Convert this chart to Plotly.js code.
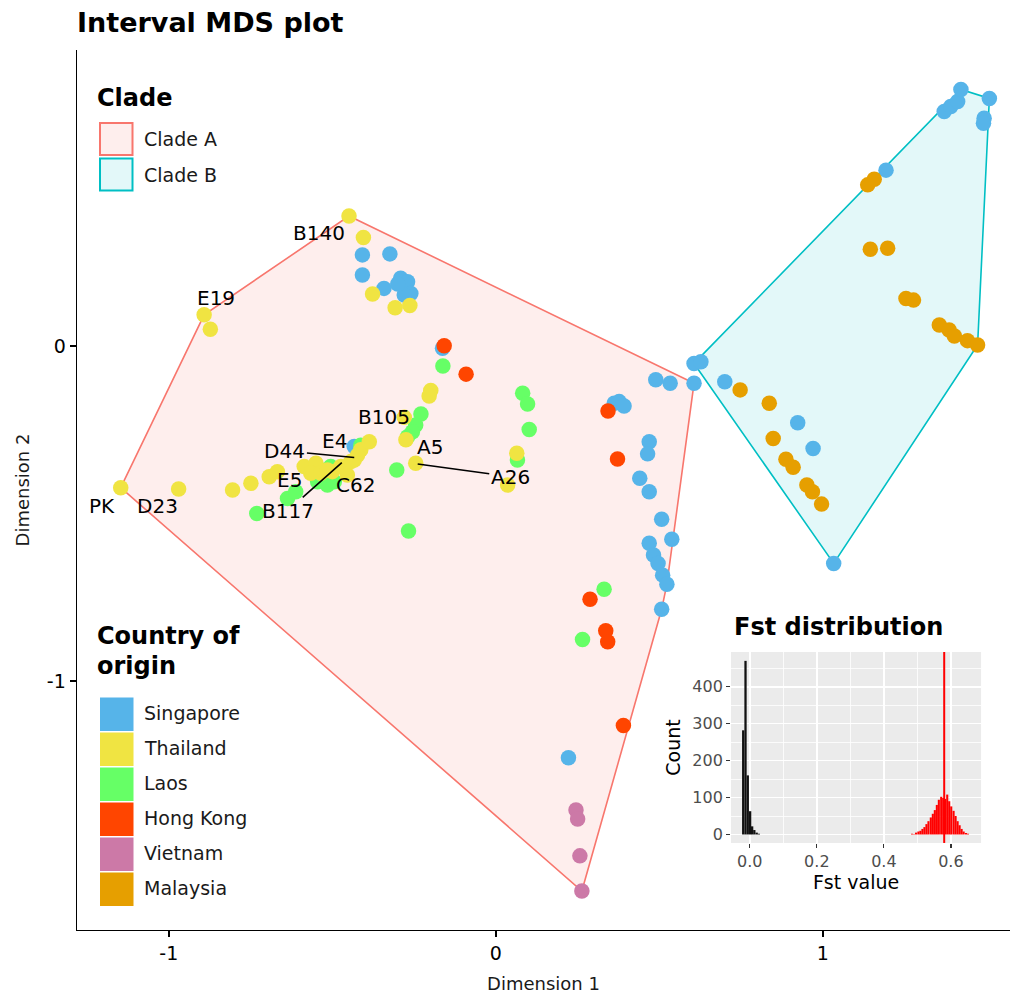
<!DOCTYPE html>
<html>
<head>
<meta charset="utf-8">
<script src="https://cdn.plot.ly/plotly-3.0.1.min.js"></script>
<style>html,body{margin:0;padding:0;background:#fff;}#chart{width:1024px;height:998px;}</style>
</head>
<body>
<div id="chart"></div>
<script>
// ---------------- DATA ----------------
const countries = ["Singapore", "Thailand", "Laos", "Hong Kong", "Vietnam", "Malaysia"];
const countryColors = ["#56B4E9", "#F0E442", "#66FF66", "#FF4500", "#CC79A7", "#E69F00"];
const cladeNames = ["Clade A", "Clade B"];

const singaporeDim1 = [-0.408,-0.324,-0.408,-0.291,-0.270,-0.260,-0.280,-0.342,-0.300,-0.163,-0.433,0.362,0.377,0.392,0.489,0.533,0.606,0.469,0.464,0.440,0.469,0.507,0.538,0.469,0.482,0.496,0.510,0.523,0.507,0.222,
  0.606,0.627,0.700,0.923,0.970,1.033,1.193,1.371,1.391,1.412,1.422,1.509,1.493,1.491];
const singaporeDim2 = [0.272,0.275,0.212,0.202,0.192,0.157,0.152,0.172,0.185,-0.007,-0.300,-0.171,-0.166,-0.179,-0.101,-0.111,-0.111,-0.286,-0.322,-0.395,-0.435,-0.517,-0.577,-0.589,-0.624,-0.649,-0.684,-0.711,-0.786,-1.229,
  -0.052,-0.047,-0.107,-0.229,-0.306,-0.649,0.525,0.700,0.715,0.730,0.766,0.739,0.680,0.665];
const singaporeClade = ["A","A","A","A","A","A","A","A","A","A","A","A","A","A","A","A","A","A","A","A","A","A","A","A","A","A","A","A","A","A",
  "B","B","B","B","B","B","B","B","B","B","B","B","B","B"];

const thailandDim1 = [-0.449,-0.405,-0.377,-0.308,-0.263,-0.892,-0.873,-0.199,-0.204,-0.280,-0.275,-0.245,-1.147,-0.970,-0.805,-0.749,-0.693,-0.668,-0.586,-0.550,-0.566,-0.535,-0.515,-0.474,-0.454,-0.433,-0.413,-0.387,-0.423,-0.443,-0.500,0.064,0.036];
const thailandDim2 = [0.388,0.324,0.155,0.114,0.121,0.093,0.050,-0.133,-0.149,-0.213,-0.280,-0.350,-0.423,-0.427,-0.430,-0.410,-0.390,-0.375,-0.360,-0.350,-0.380,-0.380,-0.370,-0.360,-0.385,-0.340,-0.310,-0.286,-0.326,-0.345,-0.375,-0.320,-0.415];
const thailandClade = thailandDim1.map(() => "A");

const laosDim1 = [-0.162,-0.229,-0.245,-0.255,-0.270,-0.303,-0.267,-0.731,-0.637,-0.612,-0.545,-0.515,-0.494,-0.505,-0.535,-0.413,0.082,0.097,0.102,0.066,0.331,0.265];
const laosDim2 = [-0.060,-0.203,-0.236,-0.256,-0.271,-0.370,-0.552,-0.500,-0.455,-0.435,-0.405,-0.415,-0.405,-0.360,-0.370,-0.296,-0.141,-0.173,-0.249,-0.340,-0.726,-0.876];
const laosClade = laosDim1.map(() => "A");

const hongKongDim1 = [-0.158,-0.091,0.343,0.372,0.288,0.336,0.342,0.390];
const hongKongDim2 = [0.001,-0.084,-0.194,-0.337,-0.756,-0.850,-0.883,-1.133];
const hongKongClade = hongKongDim1.map(() => "A");

const vietnamDim1 = [0.245,0.250,0.257,0.263];
const vietnamDim2 = [-1.385,-1.412,-1.522,-1.627];
const vietnamClade = vietnamDim1.map(() => "A");

const malaysiaDim1 = [1.157,1.137,1.145,1.198,1.254,1.277,1.356,1.386,1.402,1.442,1.473,0.747,0.836,0.848,0.887,0.909,0.951,0.968,0.996];
const malaysiaDim2 = [0.498,0.481,0.289,0.292,0.142,0.137,0.063,0.048,0.030,0.016,0.003,-0.131,-0.171,-0.276,-0.338,-0.362,-0.415,-0.435,-0.472];
const malaysiaClade = malaysiaDim1.map(() => "B");

// sample labels: text, point (dim1, dim2), label position (dim1, dim2), with connector?
const labelText = ["B140","E19","PK","D23","D44","E4","E5","C62","B117","B105","A5","A26"];
const labelPointDim1 = [-0.449,-0.892,-1.147,-0.970,-0.433,-0.433,-0.566,-0.454,-0.471,-0.280,-0.245,-0.239];
const labelPointDim2 = [0.388,0.093,-0.423,-0.427,-0.333,-0.300,-0.380,-0.385,-0.348,-0.213,-0.350,-0.352];
const labelTextDim1 = [-0.540,-0.856,-1.203,-1.035,-0.645,-0.492,-0.632,-0.428,-0.637,-0.342,-0.201,0.044];
const labelTextDim2 = [0.336,0.142,-0.478,-0.478,-0.313,-0.284,-0.400,-0.415,-0.492,-0.213,-0.301,-0.390];
const labelSegment = [false,false,false,false,true,false,false,false,true,false,false,true];

// Fst distribution (pre-binned histogram)
const nullFstBins = [-0.0197,-0.0128,-0.0060,0.0010,0.0070,0.0135,0.0205,0.0270];
const nullFstCounts = [282,470,160,63,22,12,5,2];
const nullBinWidth = 0.0068;
const cladeFstBins = [0.484,0.490,0.496,0.503,0.509,0.515,0.521,0.527,0.533,0.540,0.546,0.552,0.558,0.564,0.571,0.577,0.583,0.589,0.595,0.601,0.608,0.614,0.620,0.626,0.632,0.638,0.645,0.651];
const cladeFstCounts = [2,1,5,8,10,15,20,28,36,46,56,66,80,94,102,99,96,108,90,76,64,50,36,25,15,8,4,2];
const cladeBinWidth = 0.0062;
const observedFst = 0.580;

// ---------------- HELPERS ----------------
function hull(pts) {
  const p = pts.slice().sort((a, b) => a[0] - b[0] || a[1] - b[1]);
  const cross = (o, a, b) => (a[0]-o[0])*(b[1]-o[1]) - (a[1]-o[1])*(b[0]-o[0]);
  const lower = [], upper = [];
  for (const q of p) { while (lower.length >= 2 && cross(lower[lower.length-2], lower[lower.length-1], q) <= 0) lower.pop(); lower.push(q); }
  for (let i = p.length - 1; i >= 0; i--) { const q = p[i]; while (upper.length >= 2 && cross(upper[upper.length-2], upper[upper.length-1], q) <= 0) upper.pop(); upper.push(q); }
  upper.pop(); lower.pop();
  return lower.concat(upper);
}

const groups = [
  [singaporeDim1, singaporeDim2, singaporeClade],
  [thailandDim1, thailandDim2, thailandClade],
  [laosDim1, laosDim2, laosClade],
  [hongKongDim1, hongKongDim2, hongKongClade],
  [vietnamDim1, vietnamDim2, vietnamClade],
  [malaysiaDim1, malaysiaDim2, malaysiaClade]
];

function cladePoints(c) {
  const out = [];
  groups.forEach(g => g[0].forEach((x, i) => { if (g[2][i] === c) out.push([x, g[1][i]]); }));
  return out;
}

const FONT = "DejaVu Sans, Verdana, sans-serif";
const traces = [];
const cladeLine = ["#F8766D", "#00BFC4"];
const cladeFill = ["rgba(248,118,109,0.12)", "rgba(0,191,196,0.11)"];
["A", "B"].forEach((c, k) => {
  const h = hull(cladePoints(c));
  h.push(h[0]);
  traces.push({
    type: "scatter", mode: "lines", x: h.map(p => p[0]), y: h.map(p => p[1]),
    fill: "toself", fillcolor: cladeFill[k], line: {color: cladeLine[k], width: 1.6},
    hoverinfo: "skip", showlegend: false, name: cladeNames[k]
  });
});

const drawOrder = [0, 2, 1, 3, 4, 5];
drawOrder.forEach(i => {
  traces.push({
    type: "scatter", mode: "markers", x: groups[i][0], y: groups[i][1], name: countries[i],
    marker: {color: countryColors[i], size: 15.5, line: {width: 0}}, showlegend: false, hoverinfo: "skip"
  });
});

traces.push({type: "bar", x: nullFstBins, y: nullFstCounts, width: nullFstBins.map(() => nullBinWidth),
  xaxis: "x2", yaxis: "y2", marker: {color: "#111111", line: {width: 0}}, showlegend: false, hoverinfo: "skip"});
traces.push({type: "bar", x: cladeFstBins, y: cladeFstCounts, width: cladeFstBins.map(() => cladeBinWidth),
  xaxis: "x2", yaxis: "y2", marker: {color: "#FF0000", line: {width: 0}}, showlegend: false, hoverinfo: "skip"});

// pixel -> paper for legend placement (plot area 77..1010 x 50..930)
const PX = v => (v - 77) / 933;
const PY = v => (930 - v) / 880;

const shapes = [];
const annotations = [];

// sample labels
labelText.forEach((t, i) => {
  if (labelSegment[i]) {
    annotations.push({x: labelPointDim1[i], y: labelPointDim2[i], xref: "x", yref: "y",
      ax: labelTextDim1[i], ay: labelTextDim2[i], axref: "x", ayref: "y",
      text: t, showarrow: true, arrowhead: 0, arrowwidth: 1.6, arrowcolor: "#000", standoff: 0,
      font: {family: FONT, size: 20, color: "#000"}});
  } else {
    annotations.push({x: labelTextDim1[i], y: labelTextDim2[i], xref: "x", yref: "y", text: t, showarrow: false,
      font: {family: FONT, size: 20, color: "#000"}});
  }
});

// Clade legend
annotations.push({x: PX(95), y: PY(98), xref: "paper", yref: "paper", xanchor: "left", yanchor: "middle",
  text: "<b>Clade</b>", showarrow: false, font: {family: FONT, size: 24, color: "#000"}});
cladeNames.forEach((n, k) => {
  const top = 123 + k * 35.5;
  shapes.push({type: "rect", xref: "paper", yref: "paper", x0: PX(100), x1: PX(132.5), y0: PY(top), y1: PY(top + 32),
    fillcolor: cladeFill[k], line: {color: cladeLine[k], width: 2}});
  annotations.push({x: PX(142), y: PY(top + 16), xref: "paper", yref: "paper", xanchor: "left", yanchor: "middle",
    text: n, showarrow: false, font: {family: FONT, size: 19, color: "#1a1a1a"}});
});

// Country legend
annotations.push({x: PX(95), y: PY(636), xref: "paper", yref: "paper", xanchor: "left", yanchor: "middle",
  text: "<b>Country of</b>", showarrow: false, font: {family: FONT, size: 24, color: "#000"}});
annotations.push({x: PX(95), y: PY(666), xref: "paper", yref: "paper", xanchor: "left", yanchor: "middle",
  text: "<b>origin</b>", showarrow: false, font: {family: FONT, size: 24, color: "#000"}});
countries.forEach((n, k) => {
  const top = 697.5 + k * 35;
  shapes.push({type: "rect", xref: "paper", yref: "paper", x0: PX(100), x1: PX(133.5), y0: PY(top), y1: PY(top + 33.5),
    fillcolor: countryColors[k], line: {width: 0}});
  annotations.push({x: PX(142), y: PY(top + 15), xref: "paper", yref: "paper", xanchor: "left", yanchor: "middle",
    text: n, showarrow: false, font: {family: FONT, size: 19, color: "#1a1a1a"}});
});

// inset panel background + observed line + title
shapes.push({type: "rect", xref: "x2 domain", yref: "y2 domain", x0: 0, x1: 1, y0: 0, y1: 1,
  fillcolor: "#EBEBEB", line: {width: 0}, layer: "below"});
shapes.push({type: "line", xref: "x2", yref: "y2 domain", x0: observedFst, x1: observedFst, y0: 0, y1: 1,
  line: {color: "#FF0000", width: 2}});
annotations.push({x: PX(838), y: PY(627), xref: "paper", yref: "paper", xanchor: "center", yanchor: "middle",
  text: "<b>Fst distribution</b>", showarrow: false, font: {family: FONT, size: 24, color: "#000"}});

const layout = {
  width: 1024, height: 998,
  margin: {l: 77, r: 14, t: 50, b: 68},
  paper_bgcolor: "#fff", plot_bgcolor: "rgba(0,0,0,0)",
  font: {family: FONT, color: "#000"},
  title: {text: "<b>Interval MDS plot</b>", x: 77/1024, xref: "container", xanchor: "left",
    y: 1 - 23/998, yref: "container", yanchor: "middle", font: {family: FONT, size: 27, color: "#000"}},
  showlegend: false,
  barmode: "overlay",
  xaxis: {domain: [0, 1], range: [-1.2807, 1.5721], tickvals: [-1, 0, 1], ticktext: ["-1", "0", "1"],
    showgrid: false, zeroline: false, showline: true, linecolor: "#000", linewidth: 1.4,
    ticks: "outside", ticklen: 6, tickwidth: 1.4, tickcolor: "#000",
    tickfont: {family: FONT, size: 19, color: "#000"}, automargin: false,
    title: {text: "Dimension 1", font: {family: FONT, size: 18, color: "#1a1a1a"}, standoff: 14}},
  yaxis: {domain: [0, 1], range: [-1.7433, 0.8836], tickvals: [-1, 0], ticktext: ["-1", "0"],
    showgrid: false, zeroline: false, showline: true, linecolor: "#000", linewidth: 1.4,
    ticks: "outside", ticklen: 6, tickwidth: 1.4, tickcolor: "#000",
    tickfont: {family: FONT, size: 19, color: "#000"}, automargin: false,
    title: {text: "Dimension 2", font: {family: FONT, size: 18, color: "#1a1a1a"}, standoff: 12}},
  xaxis2: {domain: [0.701, 0.969], anchor: "y2", range: [-0.056, 0.69],
    tickvals: [0, 0.2, 0.4, 0.6], ticktext: ["0.0", "0.2", "0.4", "0.6"],
    showgrid: true, gridcolor: "#FFFFFF", gridwidth: 1.6, zeroline: false, showline: false,
    minor: {tickvals: [0.1, 0.3, 0.5], showgrid: true, gridcolor: "#FFFFFF", gridwidth: 0.8, ticks: ""},
    ticks: "outside", ticklen: 4, tickwidth: 1.2, tickcolor: "#333333",
    tickfont: {family: FONT, size: 16, color: "#4D4D4D"}, automargin: false,
    title: {text: "Fst value", font: {family: FONT, size: 19, color: "#000"}, standoff: 4}},
  yaxis2: {domain: [0.0989, 0.3159], anchor: "x2", range: [-23, 494],
    tickvals: [0, 100, 200, 300, 400],
    showgrid: true, gridcolor: "#FFFFFF", gridwidth: 1.6, zeroline: false, showline: false,
    minor: {tickvals: [50, 150, 250, 350, 450], showgrid: true, gridcolor: "#FFFFFF", gridwidth: 0.8, ticks: ""},
    ticks: "outside", ticklen: 4, tickwidth: 1.2, tickcolor: "#333333",
    tickfont: {family: FONT, size: 16, color: "#4D4D4D"}, automargin: false,
    title: {text: "Count", font: {family: FONT, size: 19, color: "#000"}, standoff: 6}},
  shapes: shapes,
  annotations: annotations
};

Plotly.newPlot("chart", traces, layout, {displayModeBar: false, staticPlot: true});
</script>
</body>
</html>
